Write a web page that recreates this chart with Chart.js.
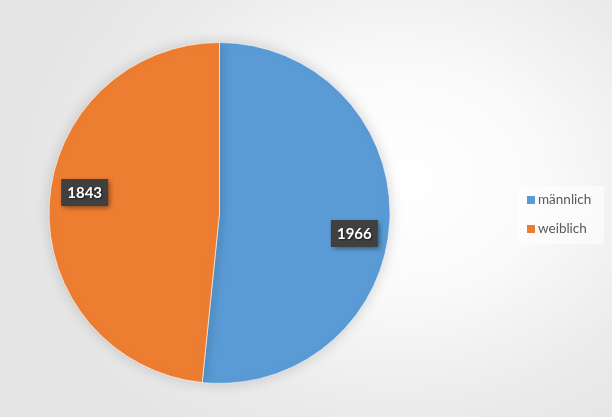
<!DOCTYPE html>
<html>
<head>
<meta charset="utf-8">
<script src="https://cdn.jsdelivr.net/npm/chart.js@4/dist/chart.umd.min.js"></script>
<style>
  html, body { margin: 0; padding: 0; }
  body {
    width: 612px; height: 417px; overflow: hidden; position: relative;
    background: radial-gradient(ellipse 400px 320px at 400px 180px, #ffffff 0%, #fafafa 35%, #ebebeb 72%, #e4e4e4 100%);
    font-family: Lato, "Open Sans", sans-serif;
  }
  #wrap { position: absolute; left: 0; top: 0; width: 612px; height: 417px; }
  #legend {
    position: absolute; left: 518px; top: 186px; width: 86px; height: 58px;
    background: rgba(255,255,255,0.55);
    font-size: 13.5px; color: #595959;
  }
  #legend div { position: absolute; left: 9px; white-space: nowrap; }
  #legend span.box { display: inline-block; width: 8px; height: 8px; margin-right: 3px; }
</style>
</head>
<body>
<div id="wrap"><canvas id="chart"></canvas></div>
<div id="legend"></div>
<script>
const categories = ["männlich", "weiblich"];
const values = [1966, 1843];
const colors = ["#5B9BD5", "#ED7D31"];

// dark value boxes, placed near the outer edge of each slice
const valueLabels = {
  id: "valueLabels",
  afterDatasetsDraw(chart) {
    const ctx = chart.ctx;
    const meta = chart.getDatasetMeta(0);
    ctx.save();
    ctx.font = "bold 15px Lato, sans-serif";
    ctx.textAlign = "center";
    ctx.textBaseline = "middle";
    meta.data.forEach((arc, i) => {
      const p = arc.getProps(["x", "y", "startAngle", "endAngle", "outerRadius"], true);
      const mid = (p.startAngle + p.endAngle) / 2 + 0.1;
      const r = p.outerRadius * 0.8;
      const x = p.x + Math.cos(mid) * r;
      const y = p.y + Math.sin(mid) * r;
      const w = 47, h = 27;
      ctx.shadowColor = "rgba(0,0,0,0.45)";
      ctx.shadowBlur = 5;
      ctx.shadowOffsetX = 2;
      ctx.shadowOffsetY = 2;
      ctx.fillStyle = "#404040";
      ctx.fillRect(x - w / 2, y - h / 2, w, h);
      ctx.shadowColor = "rgba(0,0,0,0.6)";
      ctx.shadowBlur = 2;
      ctx.shadowOffsetX = 1;
      ctx.shadowOffsetY = 1;
      ctx.fillStyle = "#ffffff";
      ctx.fillText(String(values[i]), x, y + 1);
    });
    ctx.restore();
  },
};

// soft glow behind the pie
const pieShadow = {
  id: "pieShadow",
  beforeDatasetsDraw(chart) {
    chart.ctx.save();
    chart.ctx.shadowColor = "rgba(0,0,0,0.18)";
    chart.ctx.shadowBlur = 14;
  },
  afterDatasetsDraw(chart) {
    chart.ctx.restore();
  },
};

const data = {
  labels: categories,
  datasets: [
    {
      data: values,
      backgroundColor: colors,
      borderColor: "rgba(255,255,255,0.6)",
      borderWidth: 1,
    },
  ],
};

const options = {
  animation: false,
  responsive: true,
  maintainAspectRatio: false,
  layout: {
    padding: { left: 48, right: 221, top: 42, bottom: 33 },
  },
  plugins: {
    legend: { display: false },
    tooltip: { enabled: false },
  },
};

new Chart(document.getElementById("chart"), {
  type: "pie",
  data: data,
  options: options,
  plugins: [pieShadow, valueLabels],
});

const legend = document.getElementById("legend");
categories.forEach((c, i) => {
  const row = document.createElement("div");
  row.style.top = (5 + i * 29) + "px";
  row.innerHTML = '<span class="box" style="background:' + colors[i] + '"></span>' + c;
  legend.appendChild(row);
});
</script>
</body>
</html>
